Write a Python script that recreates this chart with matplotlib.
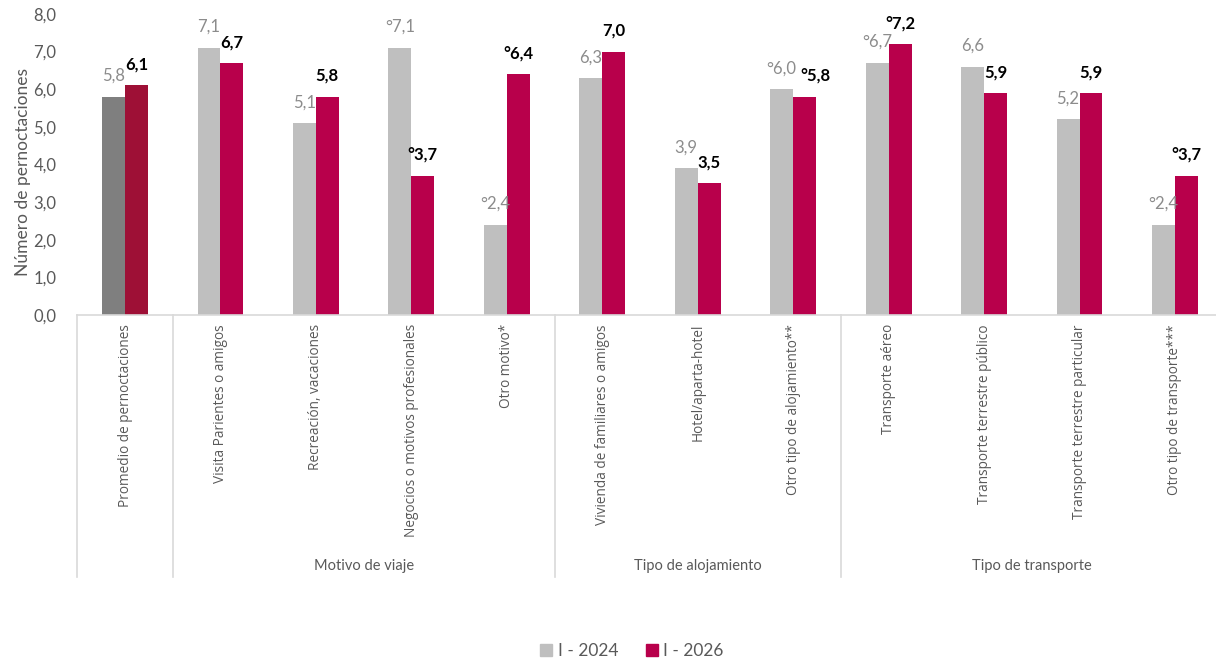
import matplotlib
matplotlib.use("Agg")
import matplotlib.pyplot as plt
import matplotlib.transforms as mtransforms
from matplotlib.patches import Patch
import numpy as np

categorias = [
    "Promedio de pernoctaciones",
    "Visita Parientes o amigos",
    "Recreación, vacaciones",
    "Negocios o motivos profesionales",
    "Otro motivo*",
    "Vivienda de familiares o amigos",
    "Hotel/aparta-hotel",
    "Otro tipo de alojamiento**",
    "Transporte aéreo",
    "Transporte terrestre público",
    "Transporte terrestre particular",
    "Otro tipo de transporte***",
]
grupos = ["Motivo de viaje", "Tipo de alojamiento", "Tipo de transporte"]
grupo_rango = [(1, 4), (5, 7), (8, 11)]

v2024 = [5.8, 7.1, 5.1, 7.1, 2.4, 6.3, 3.9, 6.0, 6.7, 6.6, 5.2, 2.4]
v2026 = [6.1, 6.7, 5.8, 3.7, 6.4, 7.0, 3.5, 5.8, 7.2, 5.9, 5.9, 3.7]
# marca "°" en las etiquetas
m2024 = [0, 0, 0, 1, 1, 0, 0, 1, 1, 0, 0, 1]
m2026 = [0, 0, 0, 1, 1, 0, 0, 1, 1, 0, 0, 1]

gris = "#BFBFBF"
rojo = "#B8004B"
texto = "#595959"

fig = plt.figure(figsize=(12.16, 6.63), dpi=100)
ax = fig.add_axes([77.3 / 1216, 348 / 663, (1216 - 77.3) / 1216, 301 / 663])

x = np.arange(len(categorias))
w = 0.24
c24 = [gris] * len(x)
c26 = [rojo] * len(x)
c24[0] = "#7F7F7F"
c26[0] = "#9E1036"
ax.bar(x - w / 2, v2024, w, color=c24)
ax.bar(x + w / 2, v2026, w, color=c26)

def fmt(v, m):
    s = f"{v:.1f}".replace(".", ",")
    return ("°" if m else "") + s

for i in x:
    ax.annotate(fmt(v2024[i], m2024[i]), (i - w / 2, v2024[i]), xytext=(0, 15),
                textcoords="offset points", ha="center", va="center",
                fontsize=12, color="#8C8C8C", family="Lato")
    dx = 8 if i == 7 else 0  # etiqueta movida para no pisar la de 2024
    ax.annotate(fmt(v2026[i], m2026[i]), (i + w / 2, v2026[i]), xytext=(dx, 15),
                textcoords="offset points", ha="center", va="center",
                fontsize=12, color="black", fontweight="bold", family="Lato")

ax.set_xlim(-0.5, 11.43)
ax.set_ylim(0, 8)
ax.set_yticks(np.arange(0, 9, 1))
ax.set_yticklabels([f"{t:.1f}".replace(".", ",") for t in range(9)],
                   fontsize=12, color=texto, family="Lato")
ax.tick_params(axis="y", length=0, pad=15)
ax.set_xticks([])
for s in ["top", "right", "left"]:
    ax.spines[s].set_visible(False)
ax.spines["bottom"].set_color("#D9D9D9")
ax.spines["bottom"].set_linewidth(1.2)

trans = mtransforms.blended_transform_factory(ax.transData, ax.transAxes)
for sep in [-0.5, 0.5, 4.5, 7.5]:
    ax.plot([sep, sep], [0, -0.87], transform=trans, color="#D9D9D9",
            lw=1.2, clip_on=False)

for i, cat in enumerate(categorias):
    ax.text(i, -0.03, cat, transform=trans, rotation=90, ha="center", va="top",
            fontsize=9.8, color=texto, family="Open Sans")

for g, (a, b) in zip(grupos, grupo_rango):
    ax.text((a + b) / 2, -0.835, g, transform=trans, ha="center", va="center",
            fontsize=10.5, color=texto, family="Lato")

fig.text(23 / 1216, 1 - 172 / 663, "Número de pernoctaciones", rotation=90,
         ha="center", va="center", fontsize=12.5, color=texto, family="Lato")

handles = [Patch(color=gris, label="I - 2024"), Patch(color=rojo, label="I - 2026")]
fig.legend(handles=handles, loc="center", bbox_to_anchor=(632 / 1216, 1 - 651 / 663),
           ncol=2, frameon=False, handlelength=0.7, handleheight=0.7,
           handletextpad=0.3, columnspacing=1.6,
           prop={"family": "Lato", "size": 12.5}, labelcolor=texto)

fig.savefig("out.png", dpi=100)
